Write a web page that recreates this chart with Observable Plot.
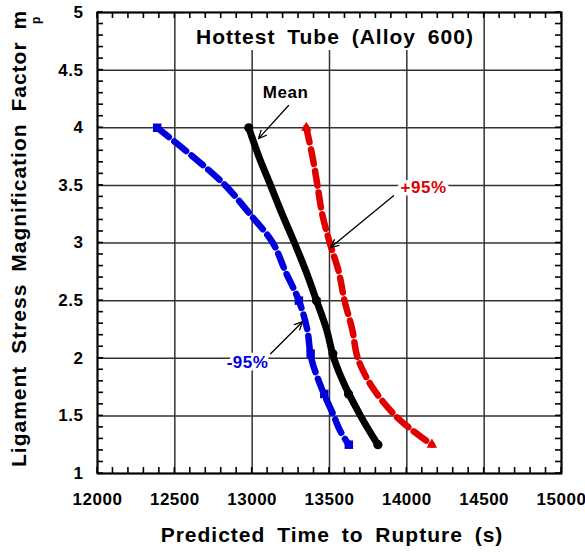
<!DOCTYPE html>
<html><head><meta charset="utf-8">
<script src="https://cdn.jsdelivr.net/npm/d3@7"></script>
<script src="https://cdn.jsdelivr.net/npm/@observablehq/plot@0.6"></script>
<style>body{margin:0;background:#fff}</style>
</head><body><div id="chart"></div>
<script>
// Ligament stress magnification factor (m_p) levels
const mp = [4, 3.75, 3.5, 3.25, 3, 2.75, 2.5, 2.25, 2, 1.75, 1.5, 1.375, 1.25];
// Predicted time to rupture (s)
const meanT = [12978, 13043, 13119, 13194, 13274, 13349, 13416, 13481, 13528, 13604, 13701, 13755, 13813];
const lowT  = [12386, 12616, 12826, 12986, 13134, 13216, 13302, 13356, 13382, 13446, 13528, 13567, 13625];
const highT = [13350, 13390, 13422, 13453, 13502, 13560, 13597, 13647, 13683, 13776, 13927, 14035, 14162];
// marker points
const markMp   = [4, 2.5, 2.04, 1.69, 1.25];
const meanMarkT = [12978, 13416, 13522, 13623, 13813];
const lowMarkT  = [12386, 13302, 13378, 13466, 13625];
const highMarkMp = [4, 1.25];
const highMarkT  = [13350, 14162];
// axes
const xMajor = [12000, 12500, 13000, 13500, 14000, 14500, 15000];
const xLabels = ["12000", "12500", "13000", "13500", "14000", "14500", "15000"];
const yMajor = [1, 1.5, 2, 2.5, 3, 3.5, 4, 4.5, 5];
const yLabels = ["1", "1.5", "2", "2.5", "3", "3.5", "4", "4.5", "5"];
const xMinor = d3.range(12000, 15001, 100);
const yMinor = d3.range(10, 51, 1).map(d => d / 10);
// texts
const titleText = "Hottest Tube (Alloy 600)";
const xTitle = "Predicted Time to Rupture (s)";
const yTitle = "Ligament Stress Magnification Factor m";
const ySub = "p";
const noteLabels = ["Mean", "+95%", "-95%"];
const noteX = [13216, 14108, 12970];
const noteY = [4.306, 3.479, 1.961];
const arrowX1 = [13235, 13914, 13119];
const arrowY1 = [4.193, 3.411, 2.039];
const arrowX2 = [13041, 13507, 13326];
const arrowY2 = [3.906, 2.960, 2.317];
const titleBox = [{x1: 12601, x2: 14464, y1: 4.67, y2: 5}];

(function () {
const BLUE = "#0000dd", RED = "#e00000";
const FONT = "'Liberation Sans', Arial, Helvetica, sans-serif";
const series = (T) => mp.map((m, i) => ({m, t: T[i]}));
const mean = series(meanT), low = series(lowT), high = series(highT);
const meanMarks = markMp.map((m, i) => ({m, t: meanMarkT[i]}));
const lowMarks = markMp.map((m, i) => ({m, t: lowMarkT[i]}));
const highMarks = highMarkMp.map((m, i) => ({m, t: highMarkT[i]}));
const noteColors = ["black", RED, BLUE];
const notes = noteLabels.map((text, i) => ({text, x: noteX[i], y: noteY[i], c: noteColors[i]}));
const arrows = arrowX1.map((x1, i) => ({x1, y1: arrowY1[i], x2: arrowX2[i], y2: arrowY2[i]}));

const W = 585, H = 552, mT = 12, mL = 97, mR = 24, mB = 79;
const [xmin, xmax] = [xMajor[0], xMajor[xMajor.length - 1]];
const [ymin, ymax] = [yMajor[0], yMajor[yMajor.length - 1]];
const plot = Plot.plot({
  width: W, height: H,
  marginTop: mT, marginLeft: mL, marginRight: mR, marginBottom: mB,
  style: {fontFamily: FONT, fontWeight: "bold", fontSize: "17px", background: "white", color: "black", letterSpacing: "0.5px"},
  x: {domain: [xmin, xmax]},
  y: {domain: [ymin, ymax]},
  marks: [
    Plot.gridX({ticks: xMajor, stroke: "#333", strokeOpacity: 1, strokeWidth: 1.5}),
    Plot.gridY({ticks: yMajor, stroke: "#333", strokeOpacity: 1, strokeWidth: 1.5}),
    Plot.rect(titleBox, {x1: "x1", x2: "x2", y1: "y1", y2: "y2", fill: "white"}),
    Plot.axisX({ticks: xMajor, anchor: "bottom", tickSize: 0, tickPadding: 19, label: null,
      tickFormat: d => xLabels[xMajor.indexOf(d)], fontSize: 17}),
    Plot.axisY({ticks: yMajor, anchor: "left", tickSize: 0, tickPadding: 14, label: null,
      tickFormat: d => yLabels[yMajor.indexOf(d)], fontSize: 17}),
    Plot.line(low, {x: "t", y: "m", stroke: BLUE, strokeWidth: 6.5, strokeDasharray: "15,7", curve: "catmull-rom"}),
    Plot.line(high, {x: "t", y: "m", stroke: RED, strokeWidth: 6.5, strokeDasharray: "15,7", curve: "catmull-rom"}),
    Plot.line(mean, {x: "t", y: "m", stroke: "black", strokeWidth: 7, curve: "catmull-rom"}),
    Plot.dot(lowMarks, {x: "t", y: "m", symbol: "square", r: 4.8, fill: BLUE}),
    Plot.dot(highMarks, {x: "t", y: "m", symbol: "triangle", r: 3.9, fill: RED}),
    Plot.dot(meanMarks, {x: "t", y: "m", r: 4.6, fill: "black"}),
    Plot.arrow(arrows, {x1: "x1", y1: "y1", x2: "x2", y2: "y2", stroke: "black", strokeWidth: 1.3, headLength: 10, headAngle: 50}),
    Plot.text(notes, {x: "x", y: "y", text: "text", fill: "c", fontSize: 17, fontWeight: "bold", stroke: "white", strokeWidth: 7}),
    Plot.frame({stroke: "black", strokeWidth: 2})
  ]
});

const svg = d3.select(plot);
// inward minor ticks on all four sides, positioned with Plot's own scales
const sx = plot.scale("x"), sy = plot.scale("y");
const TICK = 6;
const pL = sx.apply(xmin), pR = sx.apply(xmax), pB = sy.apply(ymin), pT = sy.apply(ymax);
const tg = svg.append("g").attr("stroke", "#000").attr("stroke-width", 1.6).attr("fill", "none");
const seg = (x1, y1, x2, y2) => tg.append("path").attr("d", `M${x1},${y1}L${x2},${y2}`);
xMinor.forEach(v => {
  const px = sx.apply(v);
  seg(px, pB, px, pB - TICK);
  seg(px, pT, px, pT + TICK);
});
yMinor.forEach(v => {
  const py = sy.apply(v);
  seg(pL, py, pL + TICK, py);
  seg(pR, py, pR - TICK, py);
});

const addText = (str, x, y, anchor) => svg.append("text")
  .attr("transform", `translate(${x},${y})`)
  .attr("text-anchor", anchor)
  .attr("font-family", FONT).attr("font-weight", "bold").attr("font-size", 21)
  .attr("letter-spacing", 1).attr("word-spacing", 5).attr("fill", "black")
  .text(str);
addText(titleText, 335, 43.5, "middle");
addText(xTitle, 332, 541.7, "middle");
const yt = svg.append("text")
  .attr("transform", "translate(25.5,467) rotate(-90)")
  .attr("text-anchor", "start")
  .attr("font-family", FONT).attr("font-weight", "bold").attr("font-size", 21)
  .attr("letter-spacing", 1).attr("word-spacing", 5).attr("fill", "black");
yt.append("tspan").text(yTitle);
yt.append("tspan").attr("dx", -14).attr("dy", 14).attr("font-size", 12).text(ySub);

document.getElementById("chart").append(plot);
})();
</script>
</body></html>
